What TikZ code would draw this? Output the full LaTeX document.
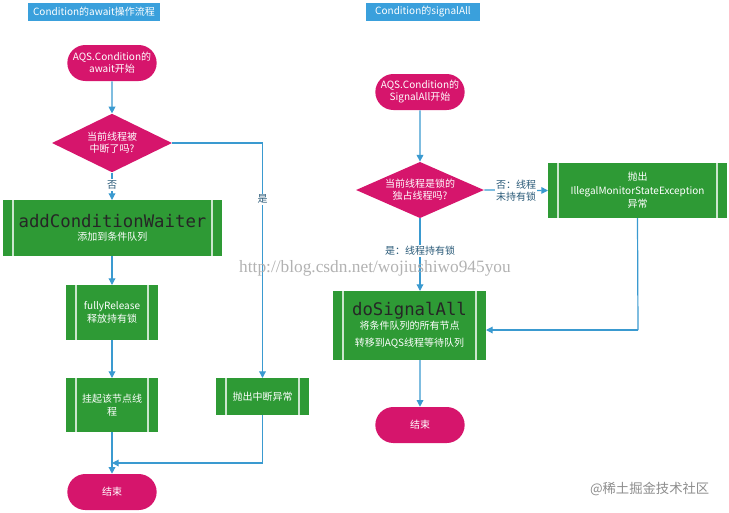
\documentclass[tikz,border=0pt]{standalone}
\usepackage{fontspec}
\setmainfont{Noto Sans CJK SC}
\newfontfamily\monof{DejaVu Sans Mono}
\newfontfamily\wmf{Liberation Serif}
\usetikzlibrary{shapes.geometric,shapes.misc,arrows.meta}
\definecolor{mag}{HTML}{D6156C}
\definecolor{grn}{HTML}{2E9A35}
\definecolor{ttl}{HTML}{3AA0DC}
\definecolor{arr}{HTML}{3A9AD0}
\definecolor{lbl}{HTML}{2A5A78}
\begin{document}
\begin{tikzpicture}[x=0.75pt,y=-0.75pt,
  term/.style={draw=none,fill=mag,rounded rectangle,minimum width=69pt,minimum height=27pt,text=white,font=\fontsize{7.5}{9}\selectfont,align=center,inner sep=1pt},
  dia/.style={draw=none,fill=mag,diamond,aspect=2,text=white,font=\fontsize{7.5}{9}\selectfont,align=center,inner sep=0pt},
  proc/.style={fill=grn,text=white,font=\fontsize{7.5}{10}\selectfont,align=center},
  ttlbox/.style={fill=ttl,text=white,font=\fontsize{7.5}{9}\selectfont,inner sep=2pt},
  ar/.style={draw=arr,line width=0.9pt,-{Triangle[length=5pt,width=5pt]}},
  ln/.style={draw=arr,line width=0.9pt},
  lab/.style={text=lbl,font=\fontsize{7.5}{9}\selectfont,fill=white,inner sep=1pt,align=left}]
\useasboundingbox (0,0) rectangle (729,512);
\newcommand{\procbox}[6]{% name x1 y1 x2 y2 text
  \fill[grn] (#2,#3) rectangle (#4,#5);
  \draw[white!75!grn,line width=0.8pt] ({#2+10},#3) -- ({#2+10},#5) ({#4-10},#3) -- ({#4-10},#5);
  \node[proc] (#1) at ({(#2+#4)/2},{(#3+#5)/2}) {#6};
  \coordinate (#1-n) at ({(#2+#4)/2},#3);
  \coordinate (#1-s) at ({(#2+#4)/2},#5);
  \coordinate (#1-w) at (#2,{(#3+#5)/2});
  \coordinate (#1-e) at (#4,{(#3+#5)/2});
  \coordinate (#1-top) at (0,#3);
  \coordinate (#1-bot) at (0,#5);}
% titles
\node[ttlbox,minimum width=99pt,minimum height=13pt] (t1) at (94,12) {Condition的await操作流程};
\node[ttlbox,minimum width=85pt,minimum height=13pt] (t2) at (423,12) {Condition的signalAll};
% left
\node[term] (s1) at (112,63) {AQS.Condition的\\await开始};
\node[dia,minimum width=90pt,minimum height=44pt] (d1) at (112,143) {当前线程被\\中断了吗?};
\procbox{acw}{3}{200}{222}{256}{{\monof\fontsize{13}{15}\selectfont\color{black!85}addConditionWaiter}\\添加到条件队列}
\procbox{fr}{66}{285}{158}{340}{fullyRelease\\释放持有锁}
\procbox{gq}{66}{378}{158}{432}{挂起该节点线\\程}
\procbox{pc}{216}{378}{309}{415}{抛出中断异常}
\node[term] (e1) at (112,492) {结束};
\draw[ar] (s1) -- (d1);
\draw[ar] (d1) -- (d1 |- acw-top) node[lab,pos=0.45] {否};
\draw[ar] (d1 |- acw-bot) -- (d1 |- fr-top);
\draw[ar] (d1 |- fr-bot) -- (d1 |- gq-top);
\draw[ar] (d1 |- gq-bot) -- (e1);
\draw[ar] (d1.east) -| (pc-n) node[lab,pos=0.62] {是};
\coordinate (j1) at (112,463);
\draw[ar] (pc-s) |- (j1);
% right
\node[term] (s2) at (420,92) {AQS.Condition的\\SignalAll开始};
\node[dia,minimum width=96pt,minimum height=41pt] (d2) at (420,190) {当前线程是锁的\\独占线程吗?};
\procbox{ill}{548}{163}{727}{218}{抛出\\IllegalMonitorStateException\\异常}
\procbox{ds}{333}{291}{486}{360}{{\monof\fontsize{13}{15}\selectfont\color{black!85}doSignalAll}\\将条件队列的所有节点\\[3pt]转移到AQS线程等待队列}
\node[term] (e2) at (420,425) {结束};
\draw[ar] (s2) -- (d2);
\draw[ar] (d2.east) -- (ill-w) node[lab,midway] {否：线程\\未持有锁};
\draw[ar] (d2) -- (d2 |- ds-top) node[lab,pos=0.45] {是：线程持有锁};
\draw[ar] (d2 |- ds-bot) -- (e2);
\coordinate (j2) at (638,330);
\draw[ln] (ill-s) -- (j2);
\draw[ar] (j2) -- (486,330);
% watermarks
\node[text=black!30,font=\wmf\fontsize{13}{15}\selectfont] (w1) at (375,268) {http://blog.csdn.net/wojiushiwo945you};
\node[text=black!45,font=\fontsize{10}{12}\selectfont,anchor=east] (w2) at (714,489) {@稀土掘金技术社区};
\end{tikzpicture}
\end{document}
